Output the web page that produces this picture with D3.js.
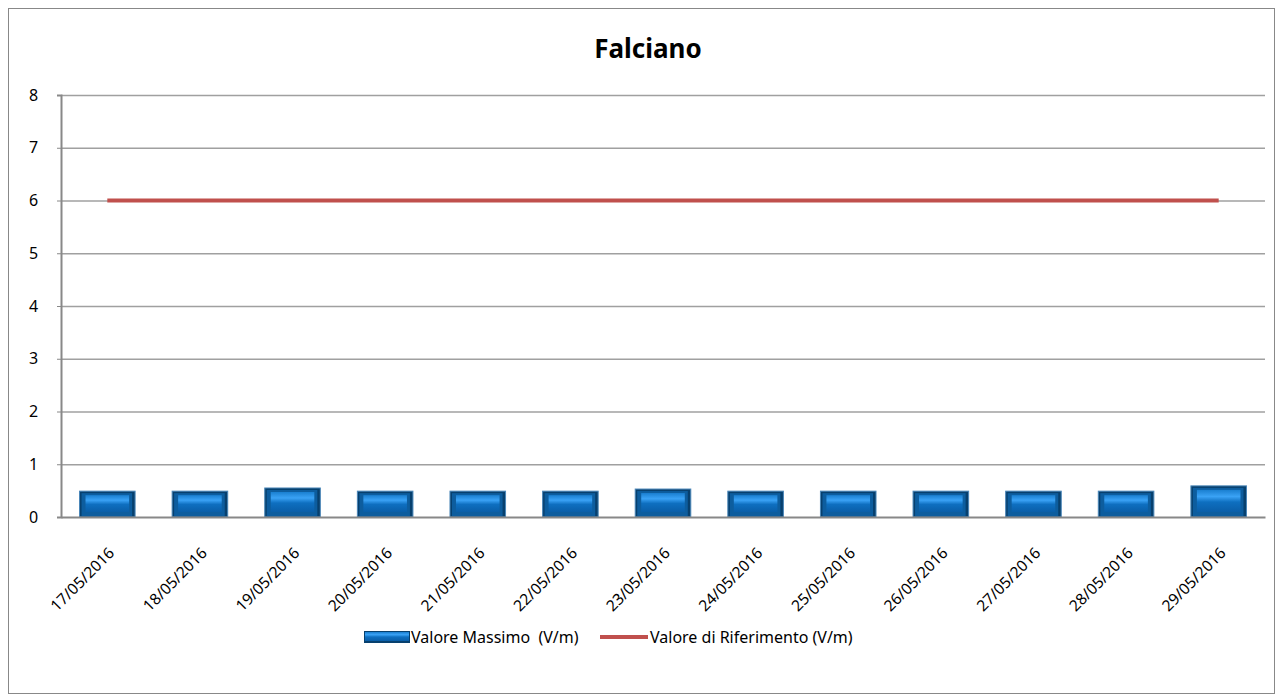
<!DOCTYPE html>
<html>
<head>
<meta charset="utf-8">
<script src="https://cdn.jsdelivr.net/npm/d3@7"></script>
<style>
  body { margin: 0; background: #fff; }
  text { font-family: "Noto Sans", "Liberation Sans", sans-serif; fill: #000; }
</style>
</head>
<body>
<div id="chart"></div>
<script>
// data
var dates = ["17/05/2016", "18/05/2016", "19/05/2016", "20/05/2016", "21/05/2016",
    "22/05/2016", "23/05/2016", "24/05/2016", "25/05/2016", "26/05/2016",
    "27/05/2016", "28/05/2016", "29/05/2016"];
var valoreMassimo = [0.49, 0.49, 0.55, 0.49, 0.49, 0.49, 0.53, 0.49, 0.49, 0.49, 0.49, 0.49, 0.59];
var valoreRiferimento = [6, 6, 6, 6, 6, 6, 6, 6, 6, 6, 6, 6, 6];
var yTicks = [0, 1, 2, 3, 4, 5, 6, 7, 8];

var svgWidth = 1276;
var svgHeight = 695;

var margin = { top: 95, bottom: 178, left: 61, right: 11 };
var width = svgWidth - margin.left - margin.right;
var height = svgHeight - margin.top - margin.bottom;

var svg = d3.select("#chart").append("svg")
    .attr("width", svgWidth)
    .attr("height", svgHeight);

// gradient for the bevelled bars
var defs = svg.append("defs");
var grad = defs.append("linearGradient").attr("id", "barGrad")
    .attr("x1", 0).attr("y1", 0).attr("x2", 0).attr("y2", 1);
grad.append("stop").attr("offset", "0%").attr("stop-color", "#1a7fd0");
grad.append("stop").attr("offset", "30%").attr("stop-color", "#3aa2f5");
grad.append("stop").attr("offset", "55%").attr("stop-color", "#0e6fc0");
grad.append("stop").attr("offset", "100%").attr("stop-color", "#0a5ea8");

// outer border
svg.append("rect")
    .attr("x", 8.5).attr("y", 8.5)
    .attr("width", svgWidth - 10).attr("height", svgHeight - 10)
    .attr("fill", "none").attr("stroke", "#888").attr("stroke-width", 1);

svg.append("text")
    .attr("x", 648).attr("y", 58)
    .attr("text-anchor", "middle")
    .style("font-size", "26px").style("font-weight", "bold")
    .text("Falciano");

var chartGroup = svg.append("g")
    .attr("transform", `translate(${margin.left}, ${margin.top})`);

var xScale = d3.scaleBand().domain(dates).range([0, width]).paddingInner(0.4).paddingOuter(0.2);
var xPoint = d3.scalePoint().domain(dates).range([0, width]).padding(0.5);
var yScale = d3.scaleLinear().domain([0, 8]).range([height, 0]);

// gridlines
chartGroup.selectAll(".grid")
    .data(yTicks.filter(d => d > 0))
    .enter().append("line")
    .attr("x1", 0).attr("x2", width)
    .attr("y1", d => yScale(d) + 0.5).attr("y2", d => yScale(d) + 0.5)
    .attr("stroke", "#a0a0a0").attr("stroke-width", 1.3);

// y axis
var leftAxis = d3.axisLeft(yScale).tickValues(yTicks).tickSize(4).tickFormat(d3.format("d"));
var yAxis = chartGroup.append("g").call(leftAxis);
yAxis.select(".domain").attr("stroke", "#888").attr("stroke-width", 2);
yAxis.selectAll(".tick line").attr("stroke", "#888");
yAxis.selectAll(".tick text").style("font-size", "16px").attr("text-anchor", "start").attr("x", -32);

// bars
var barGroups = chartGroup.selectAll(".bar")
    .data(valoreMassimo)
    .enter().append("g")
    .attr("transform", (d, i) => `translate(${xScale(dates[i])}, ${yScale(d)})`);

var bw = xScale.bandwidth();
barGroups.append("rect")
    .attr("width", bw).attr("height", d => height - yScale(d))
    .attr("fill", "#07406e").attr("stroke", "#4a86b8").attr("stroke-width", 1);
barGroups.append("rect")
    .attr("x", 2).attr("y", 2)
    .attr("width", bw - 5).attr("height", d => height - yScale(d) - 3)
    .attr("fill", "#0d5d9e");
barGroups.append("rect")
    .attr("x", 6).attr("y", 4)
    .attr("width", bw - 12).attr("height", d => height - yScale(d) - 9)
    .attr("fill", "url(#barGrad)");

// x axis
var bottomAxis = d3.axisBottom(xScale).tickSize(0);
var xAxis = chartGroup.append("g")
    .attr("transform", `translate(0, ${height})`)
    .call(bottomAxis);
xAxis.select(".domain").attr("stroke", "#888").attr("stroke-width", 2);
xAxis.selectAll(".tick text")
    .style("font-size", "15.5px")
    .attr("text-anchor", "end")
    .attr("y", 0)
    .attr("dy", 0)
    .attr("transform", "translate(8, 37) rotate(-45)");

// reference line
var line = d3.line().x((d, i) => xPoint(dates[i])).y(d => yScale(d));
chartGroup.append("path")
    .datum(valoreRiferimento)
    .attr("d", line)
    .attr("fill", "none")
    .attr("stroke", "#c0504d")
    .attr("stroke-width", 4);

// legend
var legend = svg.append("g").attr("transform", "translate(364, 637)");
legend.append("rect").attr("x", 0).attr("y", -6).attr("width", 46).attr("height", 12).attr("fill", "#07406e");
legend.append("rect").attr("x", 1).attr("y", -5).attr("width", 44).attr("height", 9).attr("fill", "url(#barGrad)");
legend.append("text").attr("x", 47).attr("y", 6).style("font-size", "16px").style("white-space", "pre")
    .text("Valore Massimo  (V/m)");
legend.append("line").attr("x1", 236).attr("x2", 284).attr("y1", 0).attr("y2", 0)
    .attr("stroke", "#c0504d").attr("stroke-width", 4);
legend.append("text").attr("x", 286).attr("y", 6).style("font-size", "16px").text("Valore di Riferimento (V/m)");
</script>
</body>
</html>
